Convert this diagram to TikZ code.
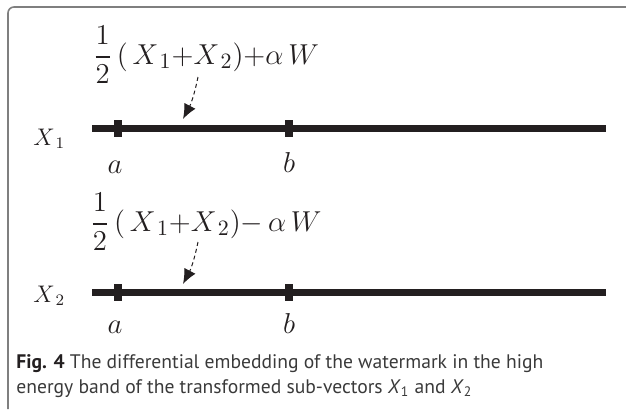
\documentclass[tikz,border=0pt]{standalone}
\usepackage{fontspec}
\usepackage{amsmath}
\newfontfamily\capfont{PT Sans}
\usetikzlibrary{arrows.meta,positioning,calc}
\definecolor{ink}{HTML}{231F20}
\definecolor{frame}{HTML}{7F7F7F}
\definecolor{captext}{HTML}{3A3A3A}
\tikzset{
  framebox/.style={draw=frame,line width=0.8pt,rounded corners=3pt},
  vec/.style={draw=ink,line width=3.5pt},
  tickmark/.style={fill=ink,minimum width=4pt,minimum height=8.5pt,inner sep=0pt},
  vlabel/.style={font=\fontsize{12}{14}\selectfont,text=ink,inner sep=0pt,anchor=base west},
  pt/.style={font=\fontsize{15}{17}\selectfont,text=ink,inner sep=0pt,anchor=base},
  formula/.style={font=\fontsize{15.5}{18}\selectfont,text=ink,inner sep=0pt},
  pointer/.style={-{Latex[length=2.6mm,width=2.2mm]},dashed,dash pattern=on 2pt off 1.5pt,line width=0.5pt,color=ink},
  caption/.style={font=\capfont\fontsize{9.8}{12}\selectfont,text=captext,inner sep=0pt,anchor=base west},
}
\newcommand{\halfsum}{\frac{1}{2}\,(\,X_{\,1}\mathord{\mathbf{+}}X_{\,2})}
\begin{document}
\begin{tikzpicture}[x=0.5pt,y=-0.5pt]
  \useasboundingbox (0,0) rectangle (626,409);
  \draw[framebox] (8,409) -- (8,7) -- (626,7);
  % first sub-vector
  \coordinate (v1s) at (92,128);
  \coordinate (v1e) at (606,128);
  \draw[vec] (v1s) -- (v1e);
  \node[tickmark] (ta1) at (118,128) {};
  \node[tickmark] (tb1) at (289,128) {};
  \node[vlabel] (x1) at (33,145) {$X_{\,1}$};
  \node[pt] (a1) at (115,173) {$a$};
  \node[pt] (b1) at (289,172) {$b$};
  \node[formula] (f1) at (206,55) {$\displaystyle\halfsum\mathord{\mathbf{+}}\alpha\,W$};
  \coordinate (p1) at (198,77);
  \coordinate (q1) at (183,119);
  \draw[pointer] (p1) to[bend left=8] (q1);
  % second sub-vector
  \coordinate (v2s) at (92,292);
  \coordinate (v2e) at (606,292);
  \draw[vec] (v2s) -- (v2e);
  \node[tickmark] (ta2) at (118,292) {};
  \node[tickmark] (tb2) at (289,292) {};
  \node[vlabel] (x2) at (33,302) {$X_{\,2}$};
  \node[pt] (a2) at (115,333) {$a$};
  \node[pt] (b2) at (289,333) {$b$};
  \node[formula] (f2) at (206,222) {$\displaystyle\halfsum\mathord{-}\,\alpha\,W$};
  \coordinate (p2) at (198,242);
  \coordinate (q2) at (183,284);
  \draw[pointer] (p2) to[bend left=8] (q2);
  % caption
  \node[caption] (cap1) at (16,368) {{\color{ink}\bfseries Fig. 4} The differential embedding of the watermark in the high};
  \node[caption] (cap2) at (16,393) {energy band of the transformed sub-vectors \textit{X}\textsubscript{1} and \textit{X}\textsubscript{2}};
\end{tikzpicture}
\end{document}
